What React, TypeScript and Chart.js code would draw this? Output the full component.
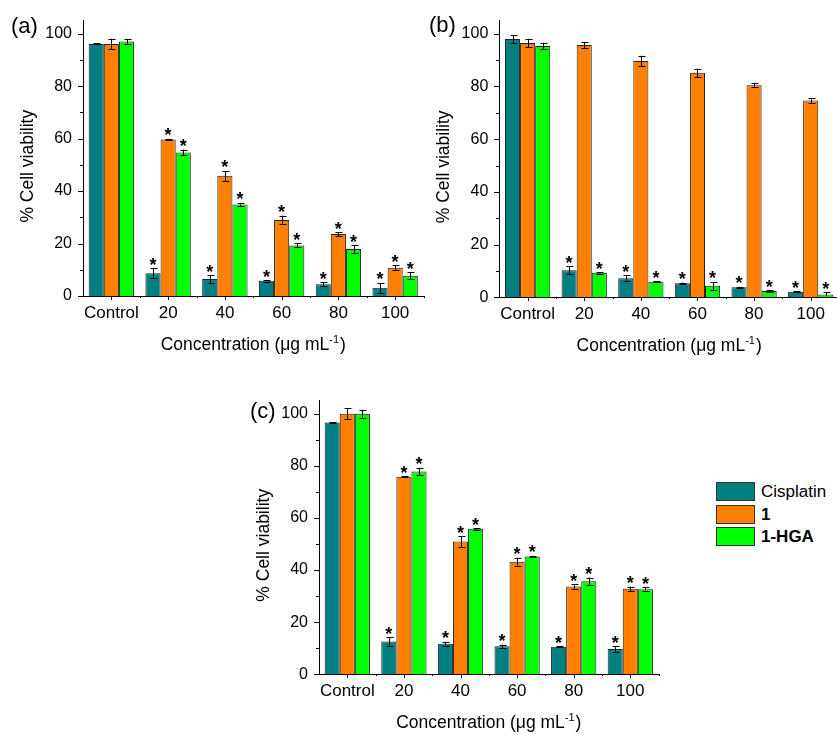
import React, { useEffect, useRef } from 'react';
import { Chart, registerables } from 'chart.js';

Chart.register(...registerables);

const FONT = '"Liberation Sans", Arial, Helvetica, sans-serif';
Chart.defaults.font.family = FONT;

// ---------- data ----------
const categories = ['Control', '20', '40', '60', '80', '100'];
const seriesNames = ['Cisplatin', '1', '1-HGA'];
const seriesColors = ['#008080', '#FF8000', '#00FF00'];
const yTicks = [0, 20, 40, 60, 80, 100];
const yMinorTicks = [10, 30, 50, 70, 90];
const Y_MAX = 105;

// panel (a)
const aCisplatin = [96.1, 8.7, 6.5, 5.8, 4.5, 3.1];
const aCisplatinErr = [0.2, 1.8, 1.5, 0.3, 0.8, 1.9];
const aCompound1 = [96.1, 59.7, 45.8, 29.0, 23.6, 10.8];
const aCompound1Err = [2.0, 0.2, 1.9, 1.6, 0.8, 1.0];
const aHGA = [97.0, 54.7, 34.9, 19.3, 17.9, 7.7];
const aHGAErr = [1.0, 1.1, 0.6, 0.8, 1.5, 1.4];
const aCisplatinSig = [false, true, true, true, true, true];
const aCompound1Sig = [false, true, true, true, true, true];
const aHGASig = [false, true, true, true, true, true];

// panel (b)
const bCisplatin = [98.0, 10.3, 7.2, 5.3, 3.8, 2.1];
const bCisplatinErr = [1.5, 1.4, 1.1, 0.3, 0.2, 0.2];
const bCompound1 = [96.5, 95.7, 89.7, 85.2, 80.5, 74.7];
const bCompound1Err = [1.6, 1.2, 2.0, 1.6, 0.8, 0.9];
const bHGA = [95.4, 9.3, 5.9, 4.4, 2.4, 1.1];
const bHGAErr = [1.2, 0.3, 0.2, 1.5, 0.3, 0.8];
const bCisplatinSig = [false, true, true, true, true, true];
const bCompound1Sig = [false, false, false, false, false, false];
const bHGASig = [false, true, true, true, true, true];

// panel (c)
const cCisplatin = [96.6, 12.6, 11.7, 10.8, 10.6, 9.7];
const cCisplatinErr = [0.2, 1.6, 0.8, 0.6, 0.2, 1.1];
const cCompound1 = [100.0, 75.8, 50.9, 43.2, 33.7, 32.8];
const cCompound1Err = [2.0, 0.2, 2.0, 1.5, 0.9, 0.8];
const cHGA = [100.0, 77.8, 55.8, 45.2, 35.7, 32.6];
const cHGAErr = [1.5, 1.4, 0.3, 0.3, 1.4, 0.7];
const cCisplatinSig = [false, true, true, true, true, true];
const cCompound1Sig = [false, true, true, true, true, true];
const cHGASig = [false, true, true, true, true, true];

// ---------- layout ----------
type Rect = { left: number; top: number; width: number; height: number };
type Area = { left: number; right: number; y0: number; y100: number };
type PanelSpec = {
  label: string;
  labelPos: { x: number; y: number };
  values: number[][];
  errors: number[][];
  sig: boolean[][];
  rect: Rect;
  area: Area;
};

const panels: PanelSpec[] = [
  {
    label: '(a)',
    labelPos: { x: 11, y: 27 },
    values: [aCisplatin, aCompound1, aHGA],
    errors: [aCisplatinErr, aCompound1Err, aHGAErr],
    sig: [aCisplatinSig, aCompound1Sig, aHGASig],
    rect: { left: 0, top: 0, width: 425, height: 365 },
    area: { left: 83, right: 423.5, y0: 296, y100: 30.3 },
  },
  {
    label: '(b)',
    labelPos: { x: 429, y: 26 },
    values: [bCisplatin, bCompound1, bHGA],
    errors: [bCisplatinErr, bCompound1Err, bHGAErr],
    sig: [bCisplatinSig, bCompound1Sig, bHGASig],
    rect: { left: 425, top: 0, width: 420, height: 365 },
    area: { left: 499.3, right: 839, y0: 297.3, y100: 32 },
  },
  {
    label: '(c)',
    labelPos: { x: 250, y: 412 },
    values: [cCisplatin, cCompound1, cHGA],
    errors: [cCisplatinErr, cCompound1Err, cHGAErr],
    sig: [cCisplatinSig, cCompound1Sig, cHGASig],
    rect: { left: 235, top: 380, width: 440, height: 355 },
    area: { left: 319, right: 658.6, y0: 674.3, y100: 409 },
  },
];

const annotPlugin = {
  id: 'annot',
  afterDraw(chart: any, _args: any, opts: any) {
    const { ctx, chartArea } = chart;
    const xs = chart.scales.x;
    const ys = chart.scales.y;
    const px = (v: number) => Math.round(v) + 0.5;
    ctx.save();
    ctx.strokeStyle = '#000';
    ctx.fillStyle = '#000';
    ctx.lineWidth = 1;

    // axis tick marks (major + minor)
    const axX = px(chartArea.left) - 0.5;
    const axY = px(chartArea.bottom) - 0.5;
    ctx.beginPath();
    yTicks.forEach((v) => {
      const y = px(ys.getPixelForValue(v));
      ctx.moveTo(axX - 5, y);
      ctx.lineTo(axX, y);
    });
    yMinorTicks.forEach((v) => {
      const y = px(ys.getPixelForValue(v));
      ctx.moveTo(axX - 3, y);
      ctx.lineTo(axX, y);
    });
    categories.forEach((_c, i) => {
      const x = px(xs.getPixelForValue(i));
      ctx.moveTo(x, axY);
      ctx.lineTo(x, axY + 4);
    });
    for (let i = 1; i <= categories.length; i++) {
      const x = px(xs.getPixelForValue(i - 0.5));
      ctx.moveTo(x, axY);
      ctx.lineTo(x, axY + 2);
    }
    ctx.stroke();

    // error bars and significance stars
    ctx.font = `bold 18px ${FONT}`;
    const m = ctx.measureText('*');
    const asc = m.actualBoundingBoxAscent;
    const desc = m.actualBoundingBoxDescent;
    ctx.textAlign = 'center';
    ctx.textBaseline = 'alphabetic';
    opts.errors.forEach((errs: number[], di: number) => {
      const meta = chart.getDatasetMeta(di);
      const vals = chart.data.datasets[di].data as number[];
      meta.data.forEach((el: any, j: number) => {
        const v = vals[j];
        const e = errs[j];
        const x = px(el.x);
        const yT = ys.getPixelForValue(v + e);
        const yB = ys.getPixelForValue(Math.max(0, v - e));
        ctx.beginPath();
        ctx.moveTo(x, yT);
        ctx.lineTo(x, yB);
        ctx.moveTo(x - 3, px(yT));
        ctx.lineTo(x + 4, px(yT));
        ctx.moveTo(x - 3, px(yB));
        ctx.lineTo(x + 4, px(yB));
        ctx.stroke();
        if (opts.sig[di][j]) {
          const center = yT - 7;
          ctx.fillText('*', el.x, center + (asc - desc) / 2);
        }
      });
    });

    // panel label
    ctx.font = `22px ${FONT}`;
    ctx.textAlign = 'left';
    ctx.textBaseline = 'middle';
    ctx.fillText(opts.label, opts.labelX, opts.labelY);

    // y title
    ctx.font = `17.5px ${FONT}`;
    ctx.save();
    ctx.translate(chartArea.left - 55, ys.getPixelForValue(49.5));
    ctx.rotate(-Math.PI / 2);
    ctx.textAlign = 'center';
    ctx.textBaseline = 'middle';
    ctx.fillText('% Cell viability', 0, 0);
    ctx.restore();

    // x title with superscript
    const main = 'Concentration (\u03bcg mL';
    const sup = '-1';
    const tail = ')';
    ctx.font = `17.5px ${FONT}`;
    const wMain = ctx.measureText(main).width;
    const wTail = ctx.measureText(tail).width;
    ctx.font = `11px ${FONT}`;
    const wSup = ctx.measureText(sup).width;
    const total = wMain + wSup + wTail + 1;
    let x0 = (chartArea.left + chartArea.right) / 2 - total / 2;
    const base = chartArea.bottom + 54;
    ctx.textAlign = 'left';
    ctx.textBaseline = 'alphabetic';
    ctx.font = `17.5px ${FONT}`;
    ctx.fillText(main, x0, base);
    x0 += wMain;
    ctx.font = `11px ${FONT}`;
    ctx.fillText(sup, x0, base - 7.5);
    x0 += wSup + 1;
    ctx.font = `17.5px ${FONT}`;
    ctx.fillText(tail, x0, base);

    ctx.restore();
  },
};

function Panel({ spec }: { spec: PanelSpec }) {
  const ref = useRef<HTMLCanvasElement>(null);
  useEffect(() => {
    const canvas = ref.current;
    if (!canvas) return;
    const { rect, area } = spec;
    const top = area.y0 - (Y_MAX / 100) * (area.y0 - area.y100);
    const chart = new Chart(canvas, {
      type: 'bar',
      data: {
        labels: categories,
        datasets: spec.values.map((vals, i) => ({
          label: seriesNames[i],
          data: vals,
          backgroundColor: seriesColors[i],
          borderColor: '#222',
          borderWidth: 1,
          categoryPercentage: 0.8,
          barPercentage: 1.0,
        })),
      },
      options: {
        responsive: false,
        animation: false,
        devicePixelRatio: 1,
        layout: {
          padding: {
            left: 0,
            top: top - rect.top,
            right: rect.left + rect.width - area.right,
            bottom: 0,
          },
        },
        plugins: {
          legend: { display: false },
          tooltip: { enabled: false },
          annot: {
            label: spec.label,
            labelX: spec.labelPos.x - rect.left,
            labelY: spec.labelPos.y - rect.top,
            errors: spec.errors,
            sig: spec.sig,
          },
        } as any,
        scales: {
          x: {
            grid: { display: false, drawTicks: false },
            border: { display: true, color: '#000', width: 1 },
            ticks: {
              font: { size: 17, family: FONT },
              color: '#000',
              padding: 7,
              maxRotation: 0,
              autoSkip: false,
            },
            afterFit: (s: any) => {
              s.height = rect.top + rect.height - area.y0;
            },
          },
          y: {
            min: 0,
            max: Y_MAX,
            grid: { display: false, drawTicks: false },
            border: { display: true, color: '#000', width: 1 },
            ticks: {
              font: { size: 16, family: FONT },
              color: '#000',
              padding: 11,
            },
            afterBuildTicks: (s: any) => {
              s.ticks = yTicks.map((v) => ({ value: v }));
            },
            afterFit: (s: any) => {
              s.width = area.left - rect.left;
            },
          },
        },
      },
      plugins: [annotPlugin],
    });
    return () => chart.destroy();
  }, [spec]);
  const { rect } = spec;
  return (
    <canvas
      ref={ref}
      width={rect.width}
      height={rect.height}
      style={{
        position: 'absolute',
        left: rect.left,
        top: rect.top,
        width: rect.width,
        height: rect.height,
      }}
    />
  );
}

function Legend() {
  return (
    <div style={{ position: 'absolute', left: 716, top: 480.25 }}>
      {seriesNames.map((name, i) => (
        <div key={name} style={{ display: 'flex', alignItems: 'center', height: 22.5 }}>
          <div
            style={{
              width: 39,
              height: 19,
              background: seriesColors[i],
              border: '1px solid #333',
              boxSizing: 'border-box',
            }}
          />
          <span
            style={{
              marginLeft: 6,
              fontFamily: FONT,
              fontSize: 17,
              fontWeight: i > 0 ? 'bold' : 'normal',
              color: '#000',
              lineHeight: '19px',
            }}
          >
            {name}
          </span>
        </div>
      ))}
    </div>
  );
}

export default function App() {
  return (
    <div
      style={{
        position: 'fixed',
        left: 0,
        top: 0,
        width: 837,
        height: 735,
        overflow: 'hidden',
        background: '#fff',
      }}
    >
      {panels.map((p) => (
        <Panel key={p.label} spec={p} />
      ))}
      <Legend />
    </div>
  );
}
